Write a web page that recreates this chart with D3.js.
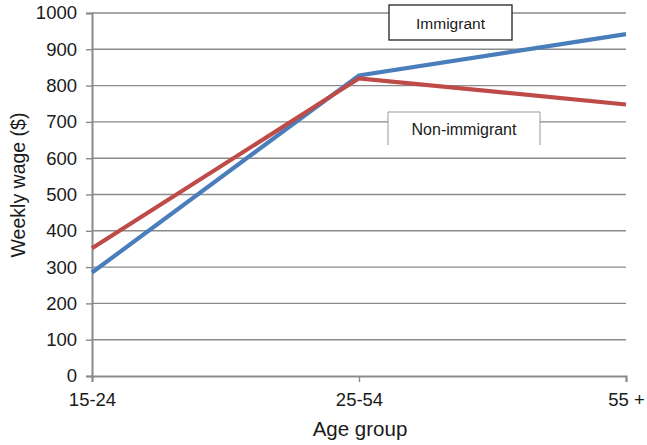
<!DOCTYPE html>
<html>
<head>
<meta charset="utf-8">
<script src="https://cdn.jsdelivr.net/npm/d3@7"></script>
<style>
  html, body { margin: 0; padding: 0; background: #fff; }
  svg { display: block; font-family: "Liberation Sans", Arial, sans-serif; }
</style>
</head>
<body>
<svg id="chart" width="647" height="445"></svg>
<script>
// Weekly wage by age group
const ageGroups = ["15-24", "25-54", "55 +"];
const immigrantWage = [285, 828, 942];
const nonImmigrantWage = [352, 820, 748];
const yTicks = [0, 100, 200, 300, 400, 500, 600, 700, 800, 900, 1000];

const svg = d3.select("#chart");
const plotLeft = 92, plotRight = 626, plotTop = 13, plotBottom = 376;

const x = d3.scalePoint().domain(ageGroups).range([plotLeft, plotRight]);
const y = d3.scaleLinear().domain([0, 1000]).range([plotBottom, plotTop]);

const gridColor = "#8a8a8a";
const textColor = "#1a1a1a";

// horizontal gridlines
svg.append("g").selectAll("line")
  .data(yTicks.filter(d => d > 0))
  .join("line")
  .attr("x1", plotLeft).attr("x2", plotRight)
  .attr("y1", d => y(d)).attr("y2", d => y(d))
  .attr("stroke", gridColor).attr("stroke-width", 1.4);

// y axis
const yAxis = svg.append("g")
  .attr("transform", `translate(${plotLeft},0)`)
  .call(d3.axisLeft(y).tickValues(yTicks).tickSize(6).tickPadding(9).tickFormat(d3.format("d")));
yAxis.select(".domain").attr("stroke", gridColor).attr("stroke-width", 2);
yAxis.selectAll(".tick line").attr("stroke", gridColor).attr("stroke-width", 1.4);
yAxis.selectAll(".tick text").attr("fill", textColor).attr("font-size", 18.5)
  .attr("font-family", "Liberation Sans, Arial, sans-serif");

// x axis
const xAxis = svg.append("g")
  .attr("transform", `translate(0,${plotBottom})`)
  .call(d3.axisBottom(x).tickSize(6).tickPadding(11));
xAxis.select(".domain").attr("stroke", gridColor).attr("stroke-width", 2);
xAxis.selectAll(".tick line").attr("stroke", gridColor).attr("stroke-width", 1.4);
xAxis.selectAll(".tick text").attr("fill", textColor).attr("font-size", 18.5)
  .attr("font-family", "Liberation Sans, Arial, sans-serif");

// series lines
const line = d3.line().x((d, i) => x(ageGroups[i])).y(d => y(d));
svg.append("path").datum(immigrantWage)
  .attr("d", line).attr("fill", "none")
  .attr("stroke", "#4a7ebb").attr("stroke-width", 4.2);
svg.append("path").datum(nonImmigrantWage)
  .attr("d", line).attr("fill", "none")
  .attr("stroke", "#be4b48").attr("stroke-width", 4.2);

// series labels
const lab1 = svg.append("g");
lab1.append("rect").attr("x", 389).attr("y", 5).attr("width", 123).attr("height", 35)
  .attr("fill", "#fff").attr("stroke", "#222").attr("stroke-width", 1.3);
lab1.append("text").attr("x", 450.5).attr("y", 28.5).attr("text-anchor", "middle")
  .attr("font-size", 15.5).attr("fill", textColor).text("Immigrant");

const lab2 = svg.append("g");
lab2.append("rect").attr("x", 388).attr("y", 112).attr("width", 152).attr("height", 33)
  .attr("fill", "#fff");
lab2.append("path")
  .attr("d", "M388,145V112H540V145")
  .attr("fill", "none").attr("stroke", "#999").attr("stroke-width", 1);
lab2.append("text").attr("x", 464).attr("y", 135).attr("text-anchor", "middle")
  .attr("font-size", 16).attr("fill", textColor).text("Non-immigrant");

// axis titles
svg.append("text").attr("x", 360).attr("y", 436).attr("text-anchor", "middle")
  .attr("font-size", 20.5).attr("fill", textColor).text("Age group");
svg.append("text")
  .attr("transform", "translate(25,185) rotate(-90)")
  .attr("text-anchor", "middle")
  .attr("font-size", 19.5).attr("fill", textColor).text("Weekly wage ($)");
</script>
</body>
</html>
